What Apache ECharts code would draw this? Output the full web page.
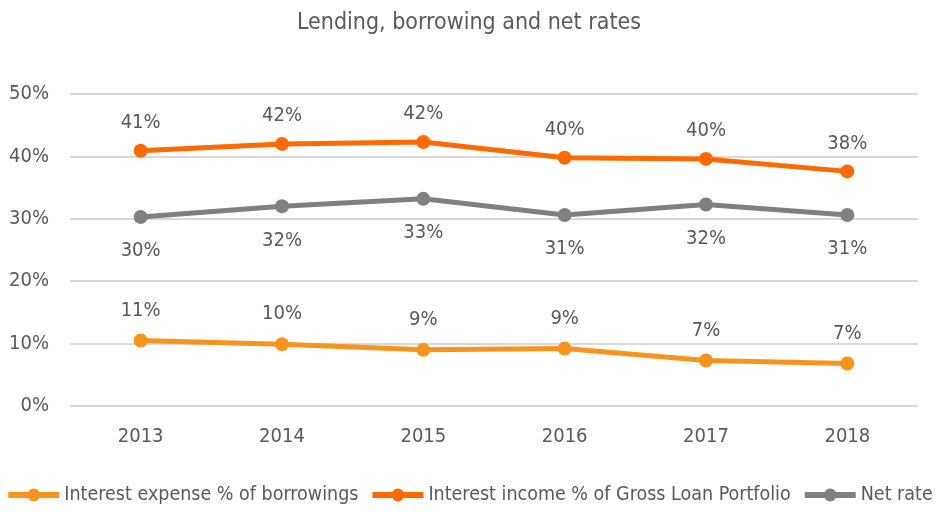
<!DOCTYPE html>
<html><head><meta charset="utf-8">
<script src="https://cdn.jsdelivr.net/npm/echarts@6/dist/echarts.min.js"></script>
<style>html,body{margin:0;padding:0;background:#fff}#c{width:938px;height:512px}</style>
</head><body><div id="c"></div>
<script>
var years = ['2013','2014','2015','2016','2017','2018'];
var expense = [10.5, 9.9, 9.0, 9.2, 7.3, 6.8];
var income = [40.9, 42.0, 42.3, 39.8, 39.6, 37.6];
var netRate = [30.3, 32.0, 33.2, 30.6, 32.3, 30.6];
var yTicks = [0, 10, 20, 30, 40, 50];
var FONT = '"DejaVu Sans Condensed", "Liberation Sans", Arial, sans-serif';
var TXT = '#595959';
function mk(name, data, color, pos, dist) {
  return {
    name: name, type: 'line', data: data,
    symbol: 'circle', symbolSize: 14,
    lineStyle: {width: 5, color: color},
    itemStyle: {color: color},
    label: {show: true, position: pos, distance: dist, color: TXT, fontSize: 20, fontFamily: FONT,
      formatter: function(p){ return Math.round(p.value) + '%'; }}
  };
}
var chart = echarts.init(document.getElementById('c'));
chart.setOption({
  animation: false,
  title: {text: 'Lending, borrowing and net rates', left: 'center', top: 7,
    textStyle: {color: TXT, fontSize: 23, fontWeight: 'normal', fontFamily: FONT}},
  grid: {left: 70, right: 20, top: 94, bottom: 106},
  xAxis: {type: 'category', data: years, boundaryGap: true,
    axisLine: {show: false}, axisTick: {show: false},
    axisLabel: {color: TXT, fontSize: 20, fontFamily: FONT, margin: 21}},
  yAxis: {type: 'value', min: 0, max: 50, interval: 10,
    axisLabel: {color: TXT, fontSize: 20, fontFamily: FONT, margin: 21, formatter: '{value}%'},
    splitLine: {lineStyle: {color: '#d9d9d9', width: 2}},
    axisLine: {show: false}, axisTick: {show: false}},
  legend: {bottom: 2, left: 'center', width: 938, padding: [5, 0], itemWidth: 51, itemHeight: 16, itemGap: 11,
    lineStyle: {width: 6},
    textStyle: {color: TXT, fontSize: 19.5, fontFamily: FONT}},
  series: [
    mk('Interest expense % of borrowings', expense, '#F7941D', 'top', 13),
    mk('Interest income % of Gross Loan Portfolio', income, '#FF6A00', 'top', 11),
    mk('Net rate', netRate, '#808080', 'bottom', 17)
  ]
});
</script></body></html>
